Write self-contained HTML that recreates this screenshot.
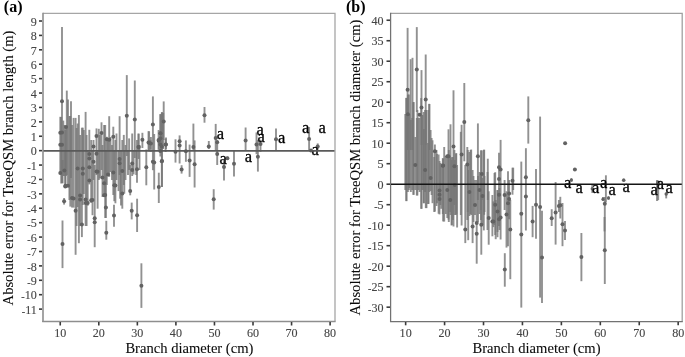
<!DOCTYPE html>
<html><head><meta charset="utf-8"><style>
html,body{margin:0;padding:0;background:#fff;width:685px;height:357px;overflow:hidden}
svg{display:block;will-change:transform;filter:blur(0.3px)}
.tk{font-family:"Liberation Serif",serif;font-size:13px;fill:#444;stroke:#444;stroke-width:0.12px}
.ti{font-family:"Liberation Serif",serif;font-size:14.6px;fill:#0a0a0a;stroke:#0a0a0a;stroke-width:0.08px}
.al{font-family:"Liberation Serif",serif;font-size:16.5px;fill:#000;stroke:#000;stroke-width:0.3px}
.lb{font-family:"Liberation Serif",serif;font-size:16px;font-weight:bold;fill:#000}
</style></head><body>
<svg width="685" height="357" viewBox="0 0 685 357">
<polyline points="43,13.4 335,13.4 335,321.4" fill="none" stroke="#a6a6a6" stroke-width="1.3"/>
<line x1="43" y1="12.8" x2="43" y2="322.1" stroke="#8e8e8e" stroke-width="1.6"/>
<line x1="42.2" y1="321.4" x2="335.6" y2="321.4" stroke="#8e8e8e" stroke-width="1.5"/>
<line x1="39" y1="309.11" x2="42" y2="309.11" stroke="#3a3a3a" stroke-width="1.6"/>
<text transform="translate(36.8,313.81) scale(0.93,1)" class="tk" text-anchor="end"><tspan font-size="11" dy="0.9">-</tspan><tspan dy="-0.9">11</tspan></text>
<line x1="39" y1="294.70" x2="42" y2="294.70" stroke="#3a3a3a" stroke-width="1.6"/>
<text transform="translate(36.8,299.40) scale(0.93,1)" class="tk" text-anchor="end"><tspan font-size="11" dy="0.9">-</tspan><tspan dy="-0.9">10</tspan></text>
<line x1="39" y1="280.29" x2="42" y2="280.29" stroke="#3a3a3a" stroke-width="1.6"/>
<text transform="translate(36.8,284.99) scale(0.93,1)" class="tk" text-anchor="end"><tspan font-size="11" dy="0.9">-</tspan><tspan dy="-0.9">9</tspan></text>
<line x1="39" y1="265.89" x2="42" y2="265.89" stroke="#3a3a3a" stroke-width="1.6"/>
<text transform="translate(36.8,270.59) scale(0.93,1)" class="tk" text-anchor="end"><tspan font-size="11" dy="0.9">-</tspan><tspan dy="-0.9">8</tspan></text>
<line x1="39" y1="251.49" x2="42" y2="251.49" stroke="#3a3a3a" stroke-width="1.6"/>
<text transform="translate(36.8,256.19) scale(0.93,1)" class="tk" text-anchor="end"><tspan font-size="11" dy="0.9">-</tspan><tspan dy="-0.9">7</tspan></text>
<line x1="39" y1="237.08" x2="42" y2="237.08" stroke="#3a3a3a" stroke-width="1.6"/>
<text transform="translate(36.8,241.78) scale(0.93,1)" class="tk" text-anchor="end"><tspan font-size="11" dy="0.9">-</tspan><tspan dy="-0.9">6</tspan></text>
<line x1="39" y1="222.68" x2="42" y2="222.68" stroke="#3a3a3a" stroke-width="1.6"/>
<text transform="translate(36.8,227.38) scale(0.93,1)" class="tk" text-anchor="end"><tspan font-size="11" dy="0.9">-</tspan><tspan dy="-0.9">5</tspan></text>
<line x1="39" y1="208.27" x2="42" y2="208.27" stroke="#3a3a3a" stroke-width="1.6"/>
<text transform="translate(36.8,212.97) scale(0.93,1)" class="tk" text-anchor="end"><tspan font-size="11" dy="0.9">-</tspan><tspan dy="-0.9">4</tspan></text>
<line x1="39" y1="193.87" x2="42" y2="193.87" stroke="#3a3a3a" stroke-width="1.6"/>
<text transform="translate(36.8,198.56) scale(0.93,1)" class="tk" text-anchor="end"><tspan font-size="11" dy="0.9">-</tspan><tspan dy="-0.9">3</tspan></text>
<line x1="39" y1="179.46" x2="42" y2="179.46" stroke="#3a3a3a" stroke-width="1.6"/>
<text transform="translate(36.8,184.16) scale(0.93,1)" class="tk" text-anchor="end"><tspan font-size="11" dy="0.9">-</tspan><tspan dy="-0.9">2</tspan></text>
<line x1="39" y1="165.06" x2="42" y2="165.06" stroke="#3a3a3a" stroke-width="1.6"/>
<text transform="translate(36.8,169.75) scale(0.93,1)" class="tk" text-anchor="end"><tspan font-size="11" dy="0.9">-</tspan><tspan dy="-0.9">1</tspan></text>
<line x1="39" y1="150.65" x2="42" y2="150.65" stroke="#3a3a3a" stroke-width="1.6"/>
<text transform="translate(36.8,155.35) scale(0.93,1)" class="tk" text-anchor="end">0</text>
<line x1="39" y1="136.25" x2="42" y2="136.25" stroke="#3a3a3a" stroke-width="1.6"/>
<text transform="translate(36.8,140.94) scale(0.93,1)" class="tk" text-anchor="end">1</text>
<line x1="39" y1="121.84" x2="42" y2="121.84" stroke="#3a3a3a" stroke-width="1.6"/>
<text transform="translate(36.8,126.54) scale(0.93,1)" class="tk" text-anchor="end">2</text>
<line x1="39" y1="107.44" x2="42" y2="107.44" stroke="#3a3a3a" stroke-width="1.6"/>
<text transform="translate(36.8,112.14) scale(0.93,1)" class="tk" text-anchor="end">3</text>
<line x1="39" y1="93.03" x2="42" y2="93.03" stroke="#3a3a3a" stroke-width="1.6"/>
<text transform="translate(36.8,97.73) scale(0.93,1)" class="tk" text-anchor="end">4</text>
<line x1="39" y1="78.63" x2="42" y2="78.63" stroke="#3a3a3a" stroke-width="1.6"/>
<text transform="translate(36.8,83.33) scale(0.93,1)" class="tk" text-anchor="end">5</text>
<line x1="39" y1="64.22" x2="42" y2="64.22" stroke="#3a3a3a" stroke-width="1.6"/>
<text transform="translate(36.8,68.92) scale(0.93,1)" class="tk" text-anchor="end">6</text>
<line x1="39" y1="49.82" x2="42" y2="49.82" stroke="#3a3a3a" stroke-width="1.6"/>
<text transform="translate(36.8,54.52) scale(0.93,1)" class="tk" text-anchor="end">7</text>
<line x1="39" y1="35.41" x2="42" y2="35.41" stroke="#3a3a3a" stroke-width="1.6"/>
<text transform="translate(36.8,40.11) scale(0.93,1)" class="tk" text-anchor="end">8</text>
<line x1="39" y1="21.01" x2="42" y2="21.01" stroke="#3a3a3a" stroke-width="1.6"/>
<text transform="translate(36.8,25.71) scale(0.93,1)" class="tk" text-anchor="end">9</text>
<line x1="60.24" y1="322" x2="60.24" y2="325.5" stroke="#3a3a3a" stroke-width="1.6"/>
<text transform="translate(60.24,336.9) scale(0.93,1)" class="tk" text-anchor="middle">10</text>
<line x1="98.80" y1="322" x2="98.80" y2="325.5" stroke="#3a3a3a" stroke-width="1.6"/>
<text transform="translate(98.80,336.9) scale(0.93,1)" class="tk" text-anchor="middle">20</text>
<line x1="137.35" y1="322" x2="137.35" y2="325.5" stroke="#3a3a3a" stroke-width="1.6"/>
<text transform="translate(137.35,336.9) scale(0.93,1)" class="tk" text-anchor="middle">30</text>
<line x1="175.90" y1="322" x2="175.90" y2="325.5" stroke="#3a3a3a" stroke-width="1.6"/>
<text transform="translate(175.90,336.9) scale(0.93,1)" class="tk" text-anchor="middle">40</text>
<line x1="214.46" y1="322" x2="214.46" y2="325.5" stroke="#3a3a3a" stroke-width="1.6"/>
<text transform="translate(214.46,336.9) scale(0.93,1)" class="tk" text-anchor="middle">50</text>
<line x1="253.01" y1="322" x2="253.01" y2="325.5" stroke="#3a3a3a" stroke-width="1.6"/>
<text transform="translate(253.01,336.9) scale(0.93,1)" class="tk" text-anchor="middle">60</text>
<line x1="291.56" y1="322" x2="291.56" y2="325.5" stroke="#3a3a3a" stroke-width="1.6"/>
<text transform="translate(291.56,336.9) scale(0.93,1)" class="tk" text-anchor="middle">70</text>
<line x1="330.11" y1="322" x2="330.11" y2="325.5" stroke="#3a3a3a" stroke-width="1.6"/>
<text transform="translate(330.11,336.9) scale(0.93,1)" class="tk" text-anchor="middle">80</text>
<polyline points="390.6,13.4 682.2,13.4 682.2,321.5" fill="none" stroke="#a0a0a0" stroke-width="1.3"/>
<line x1="390.6" y1="12.8" x2="390.6" y2="322.1" stroke="#727272" stroke-width="1.25"/>
<line x1="390" y1="321.5" x2="682.8" y2="321.5" stroke="#727272" stroke-width="1.25"/>
<line x1="386.5" y1="307.17" x2="390" y2="307.17" stroke="#3a3a3a" stroke-width="1.6"/>
<text transform="translate(383.6,311.87) scale(0.93,1)" class="tk" text-anchor="end"><tspan font-size="11" dy="0.9">-</tspan><tspan dy="-0.9">30</tspan></text>
<line x1="386.5" y1="286.68" x2="390" y2="286.68" stroke="#3a3a3a" stroke-width="1.6"/>
<text transform="translate(383.6,291.38) scale(0.93,1)" class="tk" text-anchor="end"><tspan font-size="11" dy="0.9">-</tspan><tspan dy="-0.9">25</tspan></text>
<line x1="386.5" y1="266.18" x2="390" y2="266.18" stroke="#3a3a3a" stroke-width="1.6"/>
<text transform="translate(383.6,270.88) scale(0.93,1)" class="tk" text-anchor="end"><tspan font-size="11" dy="0.9">-</tspan><tspan dy="-0.9">20</tspan></text>
<line x1="386.5" y1="245.69" x2="390" y2="245.69" stroke="#3a3a3a" stroke-width="1.6"/>
<text transform="translate(383.6,250.38) scale(0.93,1)" class="tk" text-anchor="end"><tspan font-size="11" dy="0.9">-</tspan><tspan dy="-0.9">15</tspan></text>
<line x1="386.5" y1="225.19" x2="390" y2="225.19" stroke="#3a3a3a" stroke-width="1.6"/>
<text transform="translate(383.6,229.89) scale(0.93,1)" class="tk" text-anchor="end"><tspan font-size="11" dy="0.9">-</tspan><tspan dy="-0.9">10</tspan></text>
<line x1="386.5" y1="204.69" x2="390" y2="204.69" stroke="#3a3a3a" stroke-width="1.6"/>
<text transform="translate(383.6,209.39) scale(0.93,1)" class="tk" text-anchor="end"><tspan font-size="11" dy="0.9">-</tspan><tspan dy="-0.9">5</tspan></text>
<line x1="386.5" y1="184.20" x2="390" y2="184.20" stroke="#3a3a3a" stroke-width="1.6"/>
<text transform="translate(383.6,188.90) scale(0.93,1)" class="tk" text-anchor="end">0</text>
<line x1="386.5" y1="163.70" x2="390" y2="163.70" stroke="#3a3a3a" stroke-width="1.6"/>
<text transform="translate(383.6,168.40) scale(0.93,1)" class="tk" text-anchor="end">5</text>
<line x1="386.5" y1="143.21" x2="390" y2="143.21" stroke="#3a3a3a" stroke-width="1.6"/>
<text transform="translate(383.6,147.91) scale(0.93,1)" class="tk" text-anchor="end">10</text>
<line x1="386.5" y1="122.71" x2="390" y2="122.71" stroke="#3a3a3a" stroke-width="1.6"/>
<text transform="translate(383.6,127.41) scale(0.93,1)" class="tk" text-anchor="end">15</text>
<line x1="386.5" y1="102.22" x2="390" y2="102.22" stroke="#3a3a3a" stroke-width="1.6"/>
<text transform="translate(383.6,106.92) scale(0.93,1)" class="tk" text-anchor="end">20</text>
<line x1="386.5" y1="81.72" x2="390" y2="81.72" stroke="#3a3a3a" stroke-width="1.6"/>
<text transform="translate(383.6,86.42) scale(0.93,1)" class="tk" text-anchor="end">25</text>
<line x1="386.5" y1="61.23" x2="390" y2="61.23" stroke="#3a3a3a" stroke-width="1.6"/>
<text transform="translate(383.6,65.93) scale(0.93,1)" class="tk" text-anchor="end">30</text>
<line x1="386.5" y1="40.73" x2="390" y2="40.73" stroke="#3a3a3a" stroke-width="1.6"/>
<text transform="translate(383.6,45.43) scale(0.93,1)" class="tk" text-anchor="end">35</text>
<line x1="386.5" y1="20.24" x2="390" y2="20.24" stroke="#3a3a3a" stroke-width="1.6"/>
<text transform="translate(383.6,24.94) scale(0.93,1)" class="tk" text-anchor="end">40</text>
<line x1="405.65" y1="322" x2="405.65" y2="325.3" stroke="#3a3a3a" stroke-width="1.6"/>
<text transform="translate(405.65,336.9) scale(0.93,1)" class="tk" text-anchor="middle">10</text>
<line x1="444.58" y1="322" x2="444.58" y2="325.3" stroke="#3a3a3a" stroke-width="1.6"/>
<text transform="translate(444.58,336.9) scale(0.93,1)" class="tk" text-anchor="middle">20</text>
<line x1="483.51" y1="322" x2="483.51" y2="325.3" stroke="#3a3a3a" stroke-width="1.6"/>
<text transform="translate(483.51,336.9) scale(0.93,1)" class="tk" text-anchor="middle">30</text>
<line x1="522.44" y1="322" x2="522.44" y2="325.3" stroke="#3a3a3a" stroke-width="1.6"/>
<text transform="translate(522.44,336.9) scale(0.93,1)" class="tk" text-anchor="middle">40</text>
<line x1="561.38" y1="322" x2="561.38" y2="325.3" stroke="#3a3a3a" stroke-width="1.6"/>
<text transform="translate(561.38,336.9) scale(0.93,1)" class="tk" text-anchor="middle">50</text>
<line x1="600.31" y1="322" x2="600.31" y2="325.3" stroke="#3a3a3a" stroke-width="1.6"/>
<text transform="translate(600.31,336.9) scale(0.93,1)" class="tk" text-anchor="middle">60</text>
<line x1="639.24" y1="322" x2="639.24" y2="325.3" stroke="#3a3a3a" stroke-width="1.6"/>
<text transform="translate(639.24,336.9) scale(0.93,1)" class="tk" text-anchor="middle">70</text>
<line x1="678.17" y1="322" x2="678.17" y2="325.3" stroke="#3a3a3a" stroke-width="1.6"/>
<text transform="translate(678.17,336.9) scale(0.93,1)" class="tk" text-anchor="middle">80</text>
<g stroke="#757575" stroke-width="1.9" fill="none" stroke-opacity="0.8">
<line x1="60.3" y1="116.8" x2="60.3" y2="174.2"/>
<line x1="61.2" y1="117.0" x2="61.2" y2="183.5"/>
<line x1="63.3" y1="120.6" x2="63.3" y2="176.0"/>
<line x1="64.4" y1="125.0" x2="64.4" y2="176.0"/>
<line x1="65.3" y1="130.0" x2="65.3" y2="186.8"/>
<line x1="66.0" y1="126.9" x2="66.0" y2="176.0"/>
<line x1="69.4" y1="116.0" x2="69.4" y2="200.0"/>
<line x1="70.3" y1="116.0" x2="70.3" y2="206.6"/>
<line x1="72.0" y1="125.0" x2="72.0" y2="207.6"/>
<line x1="73.6" y1="117.9" x2="73.6" y2="207.6"/>
<line x1="75.6" y1="117.9" x2="75.6" y2="254.8"/>
<line x1="76.6" y1="128.0" x2="76.6" y2="226.0"/>
<line x1="77.6" y1="123.5" x2="77.6" y2="207.0"/>
<line x1="78.9" y1="115.0" x2="78.9" y2="243.2"/>
<line x1="80.1" y1="135.0" x2="80.1" y2="226.0"/>
<line x1="81.9" y1="127.7" x2="81.9" y2="237.1"/>
<line x1="82.8" y1="127.7" x2="82.8" y2="205.0"/>
<line x1="83.8" y1="130.0" x2="83.8" y2="194.0"/>
<line x1="85.6" y1="111.9" x2="85.6" y2="226.0"/>
<line x1="86.6" y1="135.0" x2="86.6" y2="226.0"/>
<line x1="87.7" y1="150.0" x2="87.7" y2="205.7"/>
<line x1="138.6" y1="133.8" x2="138.6" y2="159.0"/>
<line x1="149.1" y1="131.3" x2="149.1" y2="151.5"/>
<line x1="150.5" y1="140.0" x2="150.5" y2="149.0"/>
<line x1="158.8" y1="140.0" x2="158.8" y2="149.0"/>
<line x1="160.4" y1="114.0" x2="160.4" y2="156.5"/>
<line x1="162.0" y1="112.0" x2="162.0" y2="187.0"/>
<line x1="163.2" y1="113.0" x2="163.2" y2="149.0"/>
<line x1="166.0" y1="137.6" x2="166.0" y2="149.0"/>
<line x1="405.3" y1="114.0" x2="405.3" y2="190.0"/>
<line x1="406.4" y1="97.9" x2="406.4" y2="201.1"/>
<line x1="407.9" y1="94.6" x2="407.9" y2="192.0"/>
<line x1="409.4" y1="114.2" x2="409.4" y2="188.0"/>
<line x1="410.8" y1="120.0" x2="410.8" y2="192.0"/>
<line x1="412.2" y1="118.0" x2="412.2" y2="190.0"/>
<line x1="413.5" y1="102.1" x2="413.5" y2="194.8"/>
<line x1="415.3" y1="137.0" x2="415.3" y2="190.0"/>
<line x1="416.8" y1="118.0" x2="416.8" y2="195.5"/>
<line x1="418.4" y1="117.8" x2="418.4" y2="190.0"/>
<line x1="419.6" y1="117.8" x2="419.6" y2="192.0"/>
<line x1="421.2" y1="98.1" x2="421.2" y2="208.8"/>
<line x1="422.5" y1="115.0" x2="422.5" y2="190.0"/>
<line x1="423.9" y1="129.0" x2="423.9" y2="203.2"/>
<line x1="425.1" y1="110.0" x2="425.1" y2="192.0"/>
<line x1="426.5" y1="110.0" x2="426.5" y2="208.1"/>
<line x1="428.0" y1="143.0" x2="428.0" y2="203.9"/>
<line x1="429.3" y1="103.9" x2="429.3" y2="192.0"/>
<line x1="430.6" y1="130.0" x2="430.6" y2="191.0"/>
<line x1="431.6" y1="138.0" x2="431.6" y2="195.0"/>
<line x1="445.8" y1="156.0" x2="445.8" y2="214.0"/>
<line x1="447.3" y1="156.2" x2="447.3" y2="218.0"/>
<line x1="448.8" y1="150.0" x2="448.8" y2="222.0"/>
<line x1="450.3" y1="157.2" x2="450.3" y2="212.0"/>
<line x1="451.8" y1="157.2" x2="451.8" y2="225.0"/>
<line x1="453.0" y1="157.0" x2="453.0" y2="220.0"/>
<line x1="454.8" y1="160.0" x2="454.8" y2="215.0"/>
<line x1="456.3" y1="153.2" x2="456.3" y2="214.0"/>
<line x1="467.8" y1="150.0" x2="467.8" y2="212.0"/>
<line x1="469.4" y1="152.0" x2="469.4" y2="216.0"/>
<line x1="470.6" y1="150.0" x2="470.6" y2="214.0"/>
<line x1="473.5" y1="176.0" x2="473.5" y2="222.0"/>
<line x1="475.0" y1="180.0" x2="475.0" y2="215.0"/>
<line x1="478.0" y1="176.0" x2="478.0" y2="222.0"/>
<line x1="479.5" y1="172.0" x2="479.5" y2="214.0"/>
<line x1="481.0" y1="176.0" x2="481.0" y2="220.0"/>
<line x1="482.5" y1="178.0" x2="482.5" y2="225.0"/>
<line x1="484.5" y1="176.0" x2="484.5" y2="212.0"/>
<line x1="487.5" y1="172.0" x2="487.5" y2="230.0"/>
<line x1="494.5" y1="173.0" x2="494.5" y2="225.0"/>
<line x1="497.5" y1="190.0" x2="497.5" y2="232.0"/>
<line x1="499.5" y1="188.0" x2="499.5" y2="230.0"/>
<line x1="434.2" y1="157.0" x2="434.2" y2="212.0"/>
<line x1="436.5" y1="150.0" x2="436.5" y2="206.0"/>
<line x1="442.8" y1="158.1" x2="442.8" y2="214.0"/>
<line x1="62.0" y1="27.0" x2="62.0" y2="183.0"/>
<line x1="66.8" y1="90.6" x2="66.8" y2="175.0"/>
<line x1="68.0" y1="99.6" x2="68.0" y2="185.0"/>
<line x1="71.0" y1="101.2" x2="71.0" y2="178.0"/>
<line x1="142.4" y1="132.8" x2="142.4" y2="148.0"/>
<line x1="141.4" y1="263.3" x2="141.4" y2="307.9"/>
<line x1="146.3" y1="149.5" x2="146.3" y2="185.3"/>
<line x1="148.5" y1="131.2" x2="148.5" y2="150.0"/>
<line x1="150.9" y1="137.0" x2="150.9" y2="152.0"/>
<line x1="152.9" y1="96.4" x2="152.9" y2="170.2"/>
<line x1="154.2" y1="134.0" x2="154.2" y2="189.5"/>
<line x1="158.8" y1="172.7" x2="158.8" y2="203.0"/>
<line x1="158.6" y1="130.0" x2="158.6" y2="150.0"/>
<line x1="160.5" y1="114.4" x2="160.5" y2="150.0"/>
<line x1="161.8" y1="112.7" x2="161.8" y2="187.0"/>
<line x1="163.7" y1="101.4" x2="163.7" y2="140.0"/>
<line x1="165.6" y1="138.7" x2="165.6" y2="152.0"/>
<line x1="175.5" y1="139.3" x2="175.5" y2="162.6"/>
<line x1="179.6" y1="135.4" x2="179.6" y2="163.5"/>
<line x1="181.6" y1="165.2" x2="181.6" y2="173.6"/>
<line x1="185.9" y1="140.4" x2="185.9" y2="161.8"/>
<line x1="189.6" y1="144.6" x2="189.6" y2="176.9"/>
<line x1="193.4" y1="123.6" x2="193.4" y2="150.0"/>
<line x1="194.6" y1="140.4" x2="194.6" y2="187.5"/>
<line x1="204.5" y1="107.0" x2="204.5" y2="122.7"/>
<line x1="208.8" y1="141.0" x2="208.8" y2="149.0"/>
<line x1="213.7" y1="189.2" x2="213.7" y2="209.6"/>
<line x1="215.7" y1="123.9" x2="215.7" y2="150.6"/>
<line x1="217.2" y1="140.0" x2="217.2" y2="165.0"/>
<line x1="224.0" y1="160.0" x2="224.0" y2="180.4"/>
<line x1="227.4" y1="156.5" x2="227.4" y2="160.0"/>
<line x1="234.0" y1="150.0" x2="234.0" y2="176.5"/>
<line x1="245.6" y1="127.5" x2="245.6" y2="150.0"/>
<line x1="256.5" y1="132.5" x2="256.5" y2="154.2"/>
<line x1="257.9" y1="140.0" x2="257.9" y2="171.6"/>
<line x1="260.5" y1="139.8" x2="260.5" y2="151.8"/>
<line x1="276.0" y1="128.4" x2="276.0" y2="151.1"/>
<line x1="309.1" y1="127.0" x2="309.1" y2="150.3"/>
<line x1="311.0" y1="149.0" x2="311.0" y2="152.0"/>
<line x1="317.7" y1="143.4" x2="317.7" y2="149.7"/>
<line x1="62.6" y1="160.0" x2="62.6" y2="183.4"/>
<line x1="64.1" y1="198.0" x2="64.1" y2="204.6"/>
<line x1="65.4" y1="150.0" x2="65.4" y2="186.7"/>
<line x1="62.5" y1="220.5" x2="62.5" y2="268.1"/>
<line x1="89.3" y1="129.8" x2="89.3" y2="184.4"/>
<line x1="91.2" y1="140.0" x2="91.2" y2="203.0"/>
<line x1="92.5" y1="150.0" x2="92.5" y2="215.2"/>
<line x1="93.5" y1="140.0" x2="93.5" y2="180.0"/>
<line x1="94.7" y1="165.0" x2="94.7" y2="247.2"/>
<line x1="96.5" y1="128.4" x2="96.5" y2="175.0"/>
<line x1="97.6" y1="150.0" x2="97.6" y2="208.7"/>
<line x1="98.8" y1="128.8" x2="98.8" y2="180.0"/>
<line x1="100.0" y1="135.0" x2="100.0" y2="178.5"/>
<line x1="101.5" y1="122.3" x2="101.5" y2="170.0"/>
<line x1="102.5" y1="145.0" x2="102.5" y2="197.0"/>
<line x1="104.1" y1="125.0" x2="104.1" y2="196.1"/>
<line x1="105.2" y1="125.0" x2="105.2" y2="218.0"/>
<line x1="105.9" y1="150.0" x2="105.9" y2="218.0"/>
<line x1="106.3" y1="220.8" x2="106.3" y2="239.7"/>
<line x1="106.8" y1="136.8" x2="106.8" y2="185.0"/>
<line x1="108.0" y1="140.0" x2="108.0" y2="176.0"/>
<line x1="109.2" y1="116.2" x2="109.2" y2="176.8"/>
<line x1="110.5" y1="137.0" x2="110.5" y2="172.0"/>
<line x1="112.0" y1="145.0" x2="112.0" y2="180.0"/>
<line x1="113.3" y1="126.7" x2="113.3" y2="195.0"/>
<line x1="114.3" y1="150.0" x2="114.3" y2="201.2"/>
<line x1="114.0" y1="204.7" x2="114.0" y2="226.7"/>
<line x1="115.4" y1="140.0" x2="115.4" y2="203.3"/>
<line x1="116.5" y1="133.5" x2="116.5" y2="180.0"/>
<line x1="118.5" y1="150.0" x2="118.5" y2="191.1"/>
<line x1="119.6" y1="116.2" x2="119.6" y2="175.0"/>
<line x1="120.1" y1="160.0" x2="120.1" y2="198.7"/>
<line x1="121.0" y1="150.0" x2="121.0" y2="205.4"/>
<line x1="122.3" y1="140.0" x2="122.3" y2="208.7"/>
<line x1="123.8" y1="134.9" x2="123.8" y2="185.0"/>
<line x1="124.3" y1="150.0" x2="124.3" y2="193.6"/>
<line x1="125.5" y1="145.0" x2="125.5" y2="180.0"/>
<line x1="126.8" y1="75.1" x2="126.8" y2="156.0"/>
<line x1="128.0" y1="150.0" x2="128.0" y2="175.0"/>
<line x1="129.1" y1="138.4" x2="129.1" y2="170.0"/>
<line x1="130.2" y1="165.0" x2="130.2" y2="195.3"/>
<line x1="131.7" y1="202.6" x2="131.7" y2="219.4"/>
<line x1="132.2" y1="133.5" x2="132.2" y2="176.0"/>
<line x1="133.6" y1="150.0" x2="133.6" y2="174.4"/>
<line x1="134.8" y1="80.5" x2="134.8" y2="158.0"/>
<line x1="136.2" y1="150.0" x2="136.2" y2="175.0"/>
<line x1="137.0" y1="140.0" x2="137.0" y2="182.7"/>
<line x1="137.1" y1="198.7" x2="137.1" y2="232.0"/>
<line x1="138.5" y1="133.5" x2="138.5" y2="150.0"/>
<line x1="139.5" y1="145.0" x2="139.5" y2="170.0"/>
<line x1="407.6" y1="27.9" x2="407.6" y2="150.0"/>
<line x1="410.6" y1="59.2" x2="410.6" y2="150.0"/>
<line x1="412.5" y1="57.8" x2="412.5" y2="150.0"/>
<line x1="416.8" y1="27.1" x2="416.8" y2="112.0"/>
<line x1="421.5" y1="70.1" x2="421.5" y2="145.0"/>
<line x1="425.7" y1="54.5" x2="425.7" y2="145.0"/>
<line x1="429.3" y1="103.9" x2="429.3" y2="150.0"/>
<line x1="406.4" y1="97.9" x2="406.4" y2="201.1"/>
<line x1="408.9" y1="94.5" x2="408.9" y2="190.0"/>
<line x1="413.5" y1="102.1" x2="413.5" y2="194.8"/>
<line x1="417.4" y1="110.0" x2="417.4" y2="195.5"/>
<line x1="421.6" y1="115.0" x2="421.6" y2="208.8"/>
<line x1="423.7" y1="112.0" x2="423.7" y2="203.2"/>
<line x1="425.8" y1="110.0" x2="425.8" y2="208.1"/>
<line x1="428.6" y1="110.0" x2="428.6" y2="203.9"/>
<line x1="432.5" y1="140.3" x2="432.5" y2="203.2"/>
<line x1="434.9" y1="144.5" x2="434.9" y2="211.6"/>
<line x1="437.0" y1="154.0" x2="437.0" y2="203.2"/>
<line x1="438.6" y1="154.5" x2="438.6" y2="213.7"/>
<line x1="439.5" y1="161.0" x2="439.5" y2="214.4"/>
<line x1="441.2" y1="163.8" x2="441.2" y2="208.8"/>
<line x1="440.4" y1="162.9" x2="440.4" y2="205.0"/>
<line x1="443.1" y1="158.7" x2="443.1" y2="221.4"/>
<line x1="444.2" y1="147.0" x2="444.2" y2="221.6"/>
<line x1="448.5" y1="129.3" x2="448.5" y2="219.6"/>
<line x1="450.5" y1="124.3" x2="450.5" y2="215.0"/>
<line x1="451.6" y1="160.0" x2="451.6" y2="225.5"/>
<line x1="453.5" y1="90.3" x2="453.5" y2="226.5"/>
<line x1="454.4" y1="150.0" x2="454.4" y2="205.0"/>
<line x1="456.0" y1="153.4" x2="456.0" y2="215.0"/>
<line x1="457.1" y1="165.0" x2="457.1" y2="227.5"/>
<line x1="460.8" y1="131.8" x2="460.8" y2="215.0"/>
<line x1="461.6" y1="124.8" x2="461.6" y2="225.5"/>
<line x1="464.3" y1="83.0" x2="464.3" y2="161.3"/>
<line x1="465.3" y1="165.0" x2="465.3" y2="243.1"/>
<line x1="467.3" y1="147.0" x2="467.3" y2="220.0"/>
<line x1="468.2" y1="170.0" x2="468.2" y2="240.2"/>
<line x1="471.2" y1="149.5" x2="471.2" y2="215.0"/>
<line x1="472.6" y1="170.0" x2="472.6" y2="243.1"/>
<line x1="476.7" y1="180.0" x2="476.7" y2="263.7"/>
<line x1="477.9" y1="123.4" x2="477.9" y2="200.0"/>
<line x1="480.9" y1="150.3" x2="480.9" y2="210.0"/>
<line x1="481.3" y1="195.0" x2="481.3" y2="254.7"/>
<line x1="483.8" y1="149.8" x2="483.8" y2="230.4"/>
<line x1="481.8" y1="150.4" x2="481.8" y2="200.0"/>
<line x1="484.2" y1="149.7" x2="484.2" y2="214.8"/>
<line x1="487.8" y1="158.7" x2="487.8" y2="200.0"/>
<line x1="488.7" y1="191.3" x2="488.7" y2="244.7"/>
<line x1="492.4" y1="195.0" x2="492.4" y2="236.3"/>
<line x1="493.4" y1="201.4" x2="493.4" y2="227.1"/>
<line x1="495.2" y1="172.2" x2="495.2" y2="235.0"/>
<line x1="495.7" y1="200.0" x2="495.7" y2="239.2"/>
<line x1="497.5" y1="190.2" x2="497.5" y2="237.2"/>
<line x1="499.0" y1="152.7" x2="499.0" y2="226.0"/>
<line x1="500.6" y1="139.9" x2="500.6" y2="239.5"/>
<line x1="504.6" y1="180.0" x2="504.6" y2="210.0"/>
<line x1="504.8" y1="253.2" x2="504.8" y2="286.7"/>
<line x1="506.5" y1="191.3" x2="506.5" y2="247.6"/>
<line x1="508.0" y1="171.3" x2="508.0" y2="246.2"/>
<line x1="509.1" y1="180.0" x2="509.1" y2="219.3"/>
<line x1="510.3" y1="200.0" x2="510.3" y2="279.2"/>
<line x1="512.5" y1="167.7" x2="512.5" y2="194.7"/>
<line x1="513.2" y1="167.7" x2="513.2" y2="190.0"/>
<line x1="521.3" y1="161.6" x2="521.3" y2="307.6"/>
<line x1="525.9" y1="148.2" x2="525.9" y2="230.5"/>
<line x1="528.3" y1="96.4" x2="528.3" y2="143.6"/>
<line x1="532.6" y1="205.9" x2="532.6" y2="237.2"/>
<line x1="536.0" y1="169.0" x2="536.0" y2="238.8"/>
<line x1="540.1" y1="116.6" x2="540.1" y2="297.6"/>
<line x1="542.0" y1="210.8" x2="542.0" y2="303.1"/>
<line x1="551.7" y1="209.2" x2="551.7" y2="226.0"/>
<line x1="555.6" y1="182.0" x2="555.6" y2="244.6"/>
<line x1="558.9" y1="200.0" x2="558.9" y2="212.0"/>
<line x1="560.3" y1="196.8" x2="560.3" y2="218.5"/>
<line x1="562.5" y1="203.0" x2="562.5" y2="246.2"/>
<line x1="565.0" y1="221.0" x2="565.0" y2="240.0"/>
<line x1="565.1" y1="142.0" x2="565.1" y2="144.6"/>
<line x1="571.4" y1="178.0" x2="571.4" y2="182.0"/>
<line x1="574.9" y1="168.5" x2="574.9" y2="170.7"/>
<line x1="581.4" y1="233.0" x2="581.4" y2="281.2"/>
<line x1="603.0" y1="197.0" x2="603.0" y2="201.0"/>
<line x1="592.3" y1="184.0" x2="592.3" y2="193.0"/>
<line x1="605.9" y1="175.3" x2="605.9" y2="202.2"/>
<line x1="604.8" y1="197.0" x2="604.8" y2="284.0"/>
<line x1="604.5" y1="217.0" x2="604.5" y2="231.4"/>
<line x1="608.5" y1="196.0" x2="608.5" y2="200.0"/>
<line x1="623.7" y1="178.5" x2="623.7" y2="181.5"/>
<line x1="657.0" y1="180.0" x2="657.0" y2="201.0"/>
<line x1="658.2" y1="181.0" x2="658.2" y2="200.2"/>
<line x1="666.2" y1="192.7" x2="666.2" y2="198.4"/>
</g>
<g fill="#626262">
<circle cx="60.3" cy="132.8" r="2.0"/>
<circle cx="60.3" cy="144.7" r="2.0"/>
<circle cx="60.3" cy="173.0" r="2.0"/>
<circle cx="64.4" cy="170.5" r="2.0"/>
<circle cx="65.3" cy="186.4" r="2.0"/>
<circle cx="66.0" cy="126.9" r="2.0"/>
<circle cx="72.0" cy="197.9" r="2.0"/>
<circle cx="73.6" cy="198.6" r="2.0"/>
<circle cx="75.6" cy="210.7" r="2.0"/>
<circle cx="77.6" cy="168.4" r="2.0"/>
<circle cx="80.1" cy="195.5" r="2.0"/>
<circle cx="80.1" cy="199.6" r="2.0"/>
<circle cx="81.9" cy="224.5" r="2.0"/>
<circle cx="82.8" cy="168.4" r="2.0"/>
<circle cx="82.8" cy="173.8" r="2.0"/>
<circle cx="85.6" cy="199.6" r="2.0"/>
<circle cx="85.6" cy="203.1" r="2.0"/>
<circle cx="87.7" cy="203.1" r="2.0"/>
<circle cx="138.6" cy="147.1" r="2.0"/>
<circle cx="149.1" cy="142.7" r="2.0"/>
<circle cx="158.8" cy="140.8" r="2.0"/>
<circle cx="160.4" cy="133.2" r="2.0"/>
<circle cx="160.4" cy="138.2" r="2.0"/>
<circle cx="160.4" cy="144.5" r="2.0"/>
<circle cx="160.4" cy="150.9" r="2.0"/>
<circle cx="162.0" cy="160.9" r="2.0"/>
<circle cx="166.0" cy="144.5" r="2.0"/>
<circle cx="407.9" cy="114.2" r="2.0"/>
<circle cx="415.3" cy="165.0" r="2.0"/>
<circle cx="419.6" cy="114.7" r="2.0"/>
<circle cx="425.1" cy="170.0" r="2.0"/>
<circle cx="430.6" cy="178.0" r="2.0"/>
<circle cx="447.3" cy="156.2" r="2.0"/>
<circle cx="447.3" cy="190.0" r="2.0"/>
<circle cx="450.3" cy="200.0" r="2.0"/>
<circle cx="454.8" cy="185.0" r="2.0"/>
<circle cx="469.4" cy="192.0" r="2.0"/>
<circle cx="475.0" cy="205.0" r="2.0"/>
<circle cx="479.5" cy="190.0" r="2.0"/>
<circle cx="482.5" cy="196.0" r="2.0"/>
<circle cx="442.8" cy="165.7" r="2.0"/>
<circle cx="62.0" cy="101.2" r="2.0"/>
<circle cx="62.0" cy="132.4" r="2.0"/>
<circle cx="62.0" cy="144.7" r="2.0"/>
<circle cx="68.0" cy="185.7" r="2.0"/>
<circle cx="142.4" cy="139.8" r="2.0"/>
<circle cx="141.4" cy="285.8" r="2.0"/>
<circle cx="146.3" cy="167.2" r="2.0"/>
<circle cx="148.5" cy="142.4" r="2.0"/>
<circle cx="150.9" cy="143.4" r="2.0"/>
<circle cx="152.9" cy="124.5" r="2.0"/>
<circle cx="152.9" cy="161.8" r="2.0"/>
<circle cx="154.2" cy="162.6" r="2.0"/>
<circle cx="158.8" cy="187.0" r="2.0"/>
<circle cx="158.6" cy="140.1" r="2.0"/>
<circle cx="160.5" cy="133.4" r="2.0"/>
<circle cx="161.8" cy="146.7" r="2.0"/>
<circle cx="161.8" cy="161.3" r="2.0"/>
<circle cx="163.7" cy="121.4" r="2.0"/>
<circle cx="165.6" cy="144.6" r="2.0"/>
<circle cx="175.5" cy="151.7" r="2.0"/>
<circle cx="179.6" cy="141.3" r="2.0"/>
<circle cx="179.6" cy="145.6" r="2.0"/>
<circle cx="181.6" cy="169.4" r="2.0"/>
<circle cx="185.9" cy="151.2" r="2.0"/>
<circle cx="189.6" cy="160.5" r="2.0"/>
<circle cx="193.4" cy="147.1" r="2.0"/>
<circle cx="194.6" cy="164.2" r="2.0"/>
<circle cx="204.5" cy="115.2" r="2.0"/>
<circle cx="208.8" cy="146.4" r="2.0"/>
<circle cx="213.7" cy="199.3" r="2.0"/>
<circle cx="215.7" cy="138.0" r="2.0"/>
<circle cx="217.2" cy="142.2" r="2.0"/>
<circle cx="217.2" cy="153.9" r="2.0"/>
<circle cx="224.0" cy="166.9" r="2.0"/>
<circle cx="227.4" cy="158.2" r="2.0"/>
<circle cx="234.0" cy="163.7" r="2.0"/>
<circle cx="245.6" cy="140.6" r="2.0"/>
<circle cx="256.5" cy="144.6" r="2.0"/>
<circle cx="257.9" cy="156.7" r="2.0"/>
<circle cx="260.5" cy="144.0" r="2.0"/>
<circle cx="276.0" cy="139.3" r="2.0"/>
<circle cx="309.1" cy="139.0" r="2.0"/>
<circle cx="311.0" cy="150.5" r="2.0"/>
<circle cx="317.7" cy="146.5" r="2.0"/>
<circle cx="64.1" cy="201.3" r="2.0"/>
<circle cx="65.4" cy="185.7" r="2.0"/>
<circle cx="62.5" cy="244.1" r="2.0"/>
<circle cx="89.3" cy="154.0" r="2.0"/>
<circle cx="89.3" cy="158.4" r="2.0"/>
<circle cx="89.3" cy="167.2" r="2.0"/>
<circle cx="89.3" cy="180.4" r="2.0"/>
<circle cx="91.2" cy="200.2" r="2.0"/>
<circle cx="92.5" cy="200.1" r="2.0"/>
<circle cx="93.5" cy="146.4" r="2.0"/>
<circle cx="93.5" cy="161.8" r="2.0"/>
<circle cx="94.7" cy="218.2" r="2.0"/>
<circle cx="94.7" cy="222.3" r="2.0"/>
<circle cx="96.5" cy="135.9" r="2.0"/>
<circle cx="96.5" cy="153.8" r="2.0"/>
<circle cx="96.5" cy="171.4" r="2.0"/>
<circle cx="97.6" cy="171.8" r="2.0"/>
<circle cx="101.5" cy="133.0" r="2.0"/>
<circle cx="102.5" cy="177.6" r="2.0"/>
<circle cx="104.1" cy="183.2" r="2.0"/>
<circle cx="104.1" cy="195.3" r="2.0"/>
<circle cx="105.2" cy="194.9" r="2.0"/>
<circle cx="105.9" cy="207.5" r="2.0"/>
<circle cx="106.3" cy="232.7" r="2.0"/>
<circle cx="106.8" cy="139.3" r="2.0"/>
<circle cx="108.0" cy="174.4" r="2.0"/>
<circle cx="109.2" cy="139.8" r="2.0"/>
<circle cx="113.3" cy="136.8" r="2.0"/>
<circle cx="113.3" cy="172.6" r="2.0"/>
<circle cx="114.3" cy="185.2" r="2.0"/>
<circle cx="114.0" cy="215.6" r="2.0"/>
<circle cx="115.4" cy="185.6" r="2.0"/>
<circle cx="119.6" cy="159.0" r="2.0"/>
<circle cx="119.6" cy="163.2" r="2.0"/>
<circle cx="122.3" cy="170.9" r="2.0"/>
<circle cx="122.3" cy="193.6" r="2.0"/>
<circle cx="126.8" cy="115.7" r="2.0"/>
<circle cx="130.2" cy="191.1" r="2.0"/>
<circle cx="131.7" cy="210.7" r="2.0"/>
<circle cx="132.2" cy="163.4" r="2.0"/>
<circle cx="132.2" cy="170.0" r="2.0"/>
<circle cx="134.8" cy="119.5" r="2.0"/>
<circle cx="137.0" cy="169.2" r="2.0"/>
<circle cx="137.1" cy="215.2" r="2.0"/>
<circle cx="138.5" cy="147.1" r="2.0"/>
<circle cx="407.6" cy="89.7" r="2.0"/>
<circle cx="416.8" cy="69.4" r="2.0"/>
<circle cx="421.5" cy="107.4" r="2.0"/>
<circle cx="425.7" cy="99.6" r="2.0"/>
<circle cx="434.9" cy="151.2" r="2.0"/>
<circle cx="439.5" cy="190.6" r="2.0"/>
<circle cx="439.5" cy="194.8" r="2.0"/>
<circle cx="439.5" cy="199.0" r="2.0"/>
<circle cx="443.1" cy="165.5" r="2.0"/>
<circle cx="448.5" cy="156.2" r="2.0"/>
<circle cx="453.5" cy="146.6" r="2.0"/>
<circle cx="454.4" cy="166.3" r="2.0"/>
<circle cx="461.6" cy="154.5" r="2.0"/>
<circle cx="464.3" cy="122.1" r="2.0"/>
<circle cx="465.3" cy="229.4" r="2.0"/>
<circle cx="467.3" cy="164.6" r="2.0"/>
<circle cx="472.6" cy="226.5" r="2.0"/>
<circle cx="476.7" cy="223.1" r="2.0"/>
<circle cx="476.7" cy="233.7" r="2.0"/>
<circle cx="477.9" cy="156.2" r="2.0"/>
<circle cx="481.3" cy="224.7" r="2.0"/>
<circle cx="481.8" cy="174.0" r="2.0"/>
<circle cx="488.7" cy="218.1" r="2.0"/>
<circle cx="492.4" cy="221.6" r="2.0"/>
<circle cx="493.4" cy="221.5" r="2.0"/>
<circle cx="495.2" cy="204.7" r="2.0"/>
<circle cx="497.5" cy="211.5" r="2.0"/>
<circle cx="499.0" cy="167.2" r="2.0"/>
<circle cx="499.0" cy="179.0" r="2.0"/>
<circle cx="499.0" cy="194.7" r="2.0"/>
<circle cx="499.0" cy="219.3" r="2.0"/>
<circle cx="500.6" cy="169.5" r="2.0"/>
<circle cx="500.6" cy="217.5" r="2.0"/>
<circle cx="504.6" cy="195.1" r="2.0"/>
<circle cx="504.8" cy="269.6" r="2.0"/>
<circle cx="506.5" cy="214.4" r="2.0"/>
<circle cx="508.0" cy="203.2" r="2.0"/>
<circle cx="509.1" cy="193.5" r="2.0"/>
<circle cx="509.1" cy="199.1" r="2.0"/>
<circle cx="510.3" cy="229.4" r="2.0"/>
<circle cx="512.5" cy="180.8" r="2.0"/>
<circle cx="521.3" cy="213.7" r="2.0"/>
<circle cx="521.3" cy="234.5" r="2.0"/>
<circle cx="525.9" cy="177.2" r="2.0"/>
<circle cx="525.9" cy="196.4" r="2.0"/>
<circle cx="528.3" cy="120.2" r="2.0"/>
<circle cx="532.6" cy="221.5" r="2.0"/>
<circle cx="536.0" cy="204.7" r="2.0"/>
<circle cx="540.1" cy="207.0" r="2.0"/>
<circle cx="542.0" cy="257.6" r="2.0"/>
<circle cx="551.7" cy="218.2" r="2.0"/>
<circle cx="555.6" cy="212.4" r="2.0"/>
<circle cx="558.9" cy="205.9" r="2.0"/>
<circle cx="560.3" cy="205.2" r="2.0"/>
<circle cx="562.5" cy="224.2" r="2.0"/>
<circle cx="565.0" cy="230.5" r="2.0"/>
<circle cx="565.1" cy="143.3" r="2.0"/>
<circle cx="571.4" cy="180.0" r="1.6"/>
<circle cx="574.9" cy="169.6" r="2.0"/>
<circle cx="581.4" cy="257.0" r="2.0"/>
<circle cx="603.0" cy="199.2" r="1.6"/>
<circle cx="592.3" cy="188.8" r="1.7"/>
<circle cx="604.8" cy="203.8" r="2.0"/>
<circle cx="604.8" cy="250.3" r="2.0"/>
<circle cx="608.5" cy="198.0" r="1.6"/>
<circle cx="623.7" cy="180.2" r="1.8"/>
<circle cx="658.2" cy="182.5" r="2.0"/>
<circle cx="666.2" cy="194.0" r="1.7"/>
</g>
<g class="al">
<text x="216.7" y="139.2">a</text>
<text x="219.5" y="163.7">a</text>
<text x="244.8" y="162.1">a</text>
<text x="256.6" y="134.7">a</text>
<text x="257.6" y="142.2">a</text>
<text x="277.9" y="143.1">a</text>
<text x="301.9" y="132.5">a</text>
<text x="311.5" y="154.8">a</text>
<text x="318.5" y="132.5">a</text>
<text x="563.9" y="187.5">a</text>
<text x="575.6" y="192.9">a</text>
<text x="592.1" y="192.7">a</text>
<text x="600.1" y="187.7">a</text>
<text x="608.5" y="195.0">a</text>
<text x="622.4" y="192.3">a</text>
<text x="650.6" y="195.3">a</text>
<text x="656.8" y="189.0">a</text>
<text x="665.5" y="193.3">a</text>
</g>
<line x1="43.5" y1="150.85" x2="334.5" y2="150.85" stroke="#5a5a5a" stroke-width="1.9"/>
<line x1="391" y1="184.25" x2="681.8" y2="184.25" stroke="#151515" stroke-width="1.6"/>
<text x="189.4" y="352.6" class="ti" text-anchor="middle">Branch diameter (cm)</text>
<text x="536.5" y="352.6" class="ti" text-anchor="middle">Branch diameter (cm)</text>
<text transform="translate(12.6,168) rotate(-90)" class="ti" text-anchor="middle">Absolute error for TreeQSM branch length (m)</text>
<text transform="translate(359.6,167.5) rotate(-90)" class="ti" text-anchor="middle">Absolute error for TreeQSM branch diameter (cm)</text>
<text x="3.8" y="12" class="lb">(a)</text>
<text x="346" y="12" class="lb">(b)</text>
</svg>
</body></html>
